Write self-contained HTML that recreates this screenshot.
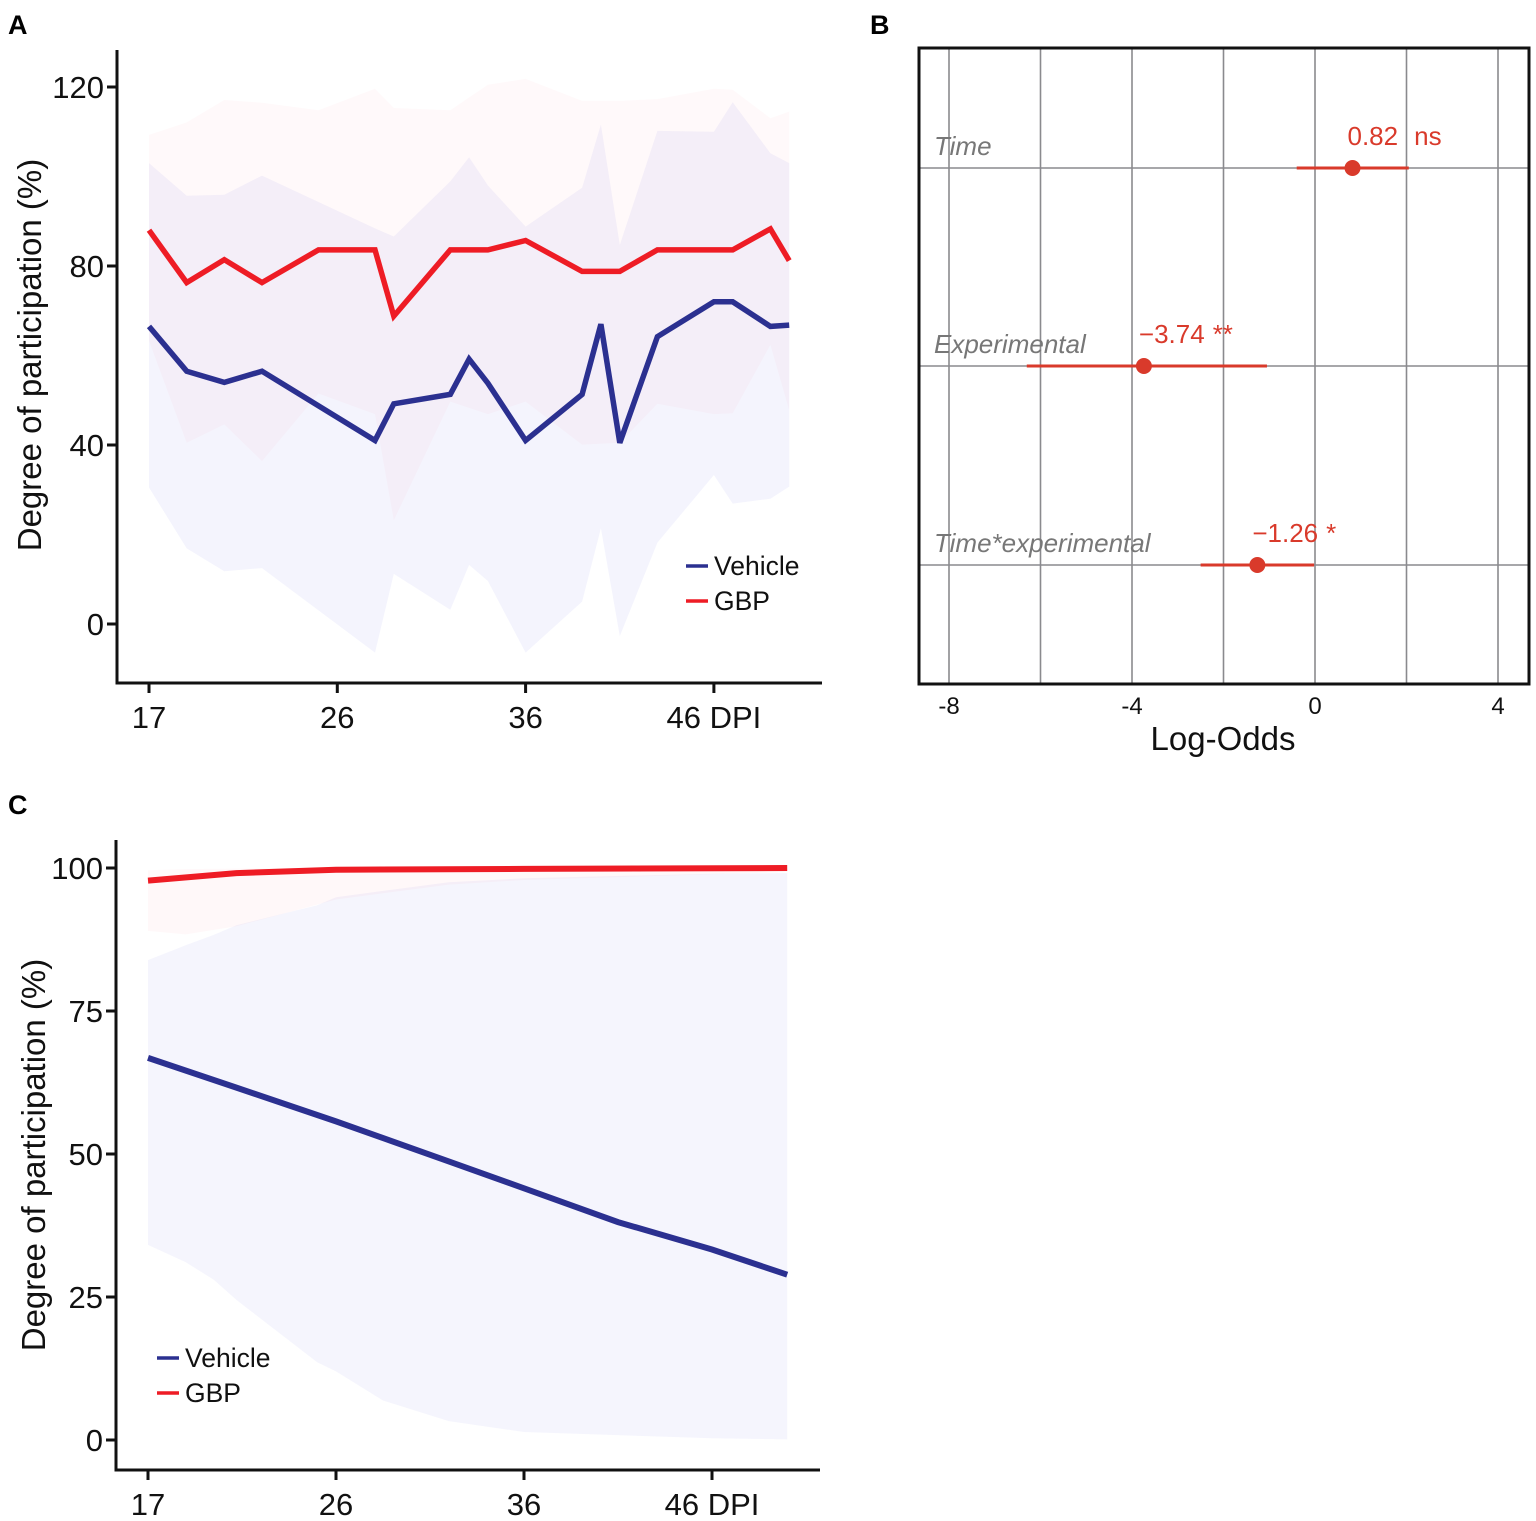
<!DOCTYPE html>
<html><head><meta charset="utf-8">
<style>
html,body{margin:0;padding:0;background:#fff;}
svg{display:block;font-family:"Liberation Sans",Arial,sans-serif;}
</style></head>
<body>
<svg id="fig" width="1536" height="1521" viewBox="0 0 1536 1521" xmlns="http://www.w3.org/2000/svg">
<text x="8" y="34" font-size="27" font-weight="bold">A</text>
<text x="870" y="34" font-size="27" font-weight="bold">B</text>
<text x="8" y="814" font-size="27" font-weight="bold">C</text>
<g id="pa"></g>
<g id="pb"></g>
<g id="pc"></g>
</svg>
<script>
// ---------- Panel A data ----------
const aXTicks = [0, 10, 20, 30];
const aXTickLabels = ["17", "26", "36", "46 DPI"];
const aYTicks = [0, 40, 80, 120];
const aRedX = [0,2,4,6,9,12,13,16,18,20,23,25,27,30,31,33,34];
const aRedY = [88,76.3,81.4,76.3,83.6,83.6,68.8,83.6,83.6,85.7,78.8,78.8,83.6,83.6,83.6,88.3,81.2];
const aRedUpper = [109.3,112.1,117.1,116.5,114.8,119.6,115.3,114.8,120.5,121.8,116.9,116.9,117.3,119.6,119.4,113,114.5];
const aRedLower = [63.3,40.5,44.6,36.4,51.5,46.9,23.2,49.7,46.9,49.7,40.1,40.5,49.2,46.9,47.1,62.4,47.8];
const aBlueX = [0,2,4,6,12,13,16,17,18,20,23,24,25,27,30,31,33,34];
const aBlueY = [66.5,56.5,54.0,56.5,41.0,49.2,51.3,59.2,53.8,41.0,51.3,67.0,40.5,64.2,72.0,72.0,66.5,66.8];
const aBlueUpper = [103,95.7,95.9,100.2,88.4,86.6,98.9,104.3,98,88.8,97.5,111.6,84.7,110.2,110,116.6,105.2,103];
const aBlueLower = [30.5,16.9,11.8,12.5,-6.4,11.2,3.2,13.2,9.6,-6.4,5,21.4,-2.7,18.2,33.3,26.9,28,30.7];

// ---------- Panel B data ----------
const bTerms = ["Time", "Experimental", "Time*experimental"];
const bEst = [0.82, -3.74, -1.26];
const bLow = [-0.4, -6.3, -2.5];
const bHigh = [2.05, -1.05, -0.02];
const bValues = ["0.82", "\u22123.74", "\u22121.26"];
const bSig = ["ns", "**", "*"];
const bXTicks = [-8, -4, 0, 4];
const bGrid = [-8, -6, -4, -2, 0, 2, 4];

// ---------- Panel C data ----------
const cXTicks = [0, 10, 20, 30];
const cXTickLabels = ["17", "26", "36", "46 DPI"];
const cYTicks = [0, 25, 50, 75, 100];
const cBlueX = [0,4.7,10,16,20,25,30,34];
const cBlueY = [66.8,61.6,55.7,48.7,44.0,38.1,33.3,28.9];
const cBandX = [0,2,3.5,4.7,9,10,12.5,16,20,30,34];
const cBlueUpper = [83.9,86.5,88.3,90,93.5,94.9,96,97.5,98.2,99.0,99.1];
const cBlueLower = [34.1,31.1,28,24.5,13.6,12,6.9,3.3,1.4,0.3,0.1];
const cRedX = [0,4.7,10,20,34];
const cRedY = [97.8,99.1,99.7,99.85,100];
const cRedBandX = [0,2,4.7,10,16,20,30,34];
const cRedUpper = [99.6,99.8,99.9,100,100,100,100,100];
const cRedLower = [89.0,88.4,89.8,94.5,97.1,97.9,98.9,99.3];

const NS = "http://www.w3.org/2000/svg";
function mk(parent, tag, attrs){ const e=document.createElementNS(NS,tag); for(const k in attrs) e.setAttribute(k,attrs[k]); parent.appendChild(e); return e; }
function linePath(xs, ys, fx, fy){ return xs.map((x,i)=>(i?"L":"M")+fx(x).toFixed(1)+","+fy(ys[i]).toFixed(1)).join(""); }
function bandPath(xs, up, lo, fx, fy){
  let d=xs.map((x,i)=>(i?"L":"M")+fx(x).toFixed(1)+","+fy(up[i]).toFixed(1)).join("");
  for(let i=xs.length-1;i>=0;i--) d+="L"+fx(xs[i]).toFixed(1)+","+fy(lo[i]).toFixed(1);
  return d+"Z";
}
const BLUE="#2b3090", RED="#ee1c25";

function linePanel(g, o){
  const fx=u=>o.x0+u*o.ux, fy=v=>o.y0-v*o.vy;
  o.bands.forEach(b=>{
    const p=mk(g,"path",{d:bandPath(b.x,b.up,b.lo,fx,fy),fill:b.fill});
    
    
  });
  o.lines.forEach(l=>{
    const p=mk(g,"path",{d:linePath(l.x,l.y,fx,fy),fill:"none",stroke:l.color,"stroke-width":o.lw,"stroke-linejoin":"miter"});
    
    
  });
  const ya=mk(g,"line",{x1:o.axX,y1:o.top,x2:o.axX,y2:o.axY+1.5,stroke:"#111","stroke-width":3});
  
  
  const xa=mk(g,"line",{x1:o.axX-1.5,y1:o.axY,x2:o.right,y2:o.axY,stroke:"#111","stroke-width":3});
  
  
  o.yTicks.forEach(v=>{
    mk(g,"line",{x1:o.axX-10,y1:fy(v),x2:o.axX,y2:fy(v),stroke:"#111","stroke-width":3});
    const t=mk(g,"text",{x:o.axX-13,y:fy(v)+11,"font-size":31,"text-anchor":"end",fill:"#111"});
    t.textContent=v;
    
    
  });
  o.xTicks.forEach((u,i)=>{
    mk(g,"line",{x1:fx(u),y1:o.axY,x2:fx(u),y2:o.axY+10,stroke:"#111","stroke-width":3});
    const t=mk(g,"text",{x:fx(u),y:o.axY+45,"font-size":31,"text-anchor":"middle",fill:"#111"});
    t.textContent=o.xLabels[i];
    
    
  });
  const yt=mk(g,"text",{x:0,y:0,"font-size":33,fill:"#111","text-anchor":"middle",transform:`translate(${o.titleX},${o.titleY}) rotate(-90)`});
  yt.textContent="Degree of participation (%)";
  
  
  [["Vehicle",BLUE,0],["GBP",RED,35]].forEach(([n,c,dy])=>{
    const lg=mk(g,"g",{});
    
    
    mk(lg,"line",{x1:o.legX,y1:o.legY+dy,x2:o.legX+22,y2:o.legY+dy,stroke:c,"stroke-width":3.5});
    const t=mk(lg,"text",{x:o.legX+28,y:o.legY+dy+9,"font-size":26.5,fill:"#111"});
    t.textContent=n;
  });
}

linePanel(document.getElementById("pa"),{
  x0:149,ux:18.83,y0:624,vy:4.475,lw:5.5,axX:117,axY:683,top:50,right:822,
  yTicks:aYTicks,xTicks:aXTicks,xLabels:aXTickLabels,titleX:41,titleY:355,legX:686,legY:566,
  bands:[
    {x:aRedX,up:aRedUpper,lo:aRedLower,fill:"rgba(245,60,90,0.03)",name:"gbp-ci-band"},
    {x:aBlueX,up:aBlueUpper,lo:aBlueLower,fill:"rgba(70,70,215,0.06)",name:"vehicle-ci-band"}],
  lines:[
    {x:aRedX,y:aRedY,color:RED,name:"gbp-line"},
    {x:aBlueX,y:aBlueY,color:BLUE,name:"vehicle-line"}]
});

linePanel(document.getElementById("pc"),{
  x0:148,ux:18.8,y0:1440,vy:5.72,lw:6,axX:116,axY:1470,top:840,right:820,
  yTicks:cYTicks,xTicks:cXTicks,xLabels:cXTickLabels,titleX:45,titleY:1155,legX:157,legY:1358,
  bands:[
    {x:cRedBandX,up:cRedUpper,lo:cRedLower,fill:"rgba(245,60,90,0.035)",name:"gbp-ci-band"},
    {x:cBandX,up:cBlueUpper,lo:cBlueLower,fill:"rgba(70,70,215,0.055)",name:"vehicle-ci-band"}],
  lines:[
    {x:cRedX,y:cRedY,color:RED,name:"gbp-line"},
    {x:cBlueX,y:cBlueY,color:BLUE,name:"vehicle-line"}]
});

// Panel B
(function(){
  const g=document.getElementById("pb");
  const fx=v=>1315+v*45.75;
  const rowY=[168,366,565];
  const L=919,R=1529,T=48,B=684;
  bGrid.forEach(v=>{
    const l=mk(g,"line",{x1:fx(v),y1:T,x2:fx(v),y2:B,stroke:"#8a8a8e","stroke-width":1.6});
    
    
  });
  rowY.forEach(y=>{
    const l=mk(g,"line",{x1:L,y1:y,x2:R,y2:y,stroke:"#8a8a8e","stroke-width":1.6});
    
    
  });
  const fr=mk(g,"rect",{x:L,y:T,width:R-L,height:B-T,fill:"none",stroke:"#111","stroke-width":3});
  
  
  const C="#d93a2b";
  bTerms.forEach((term,i)=>{
    const y=rowY[i];
    const lab=mk(g,"text",{x:934,y:y-13,"font-size":26,"font-style":"italic",fill:"#777"});
    lab.textContent=term;
    
    
    const ci=mk(g,"line",{x1:fx(bLow[i]),y1:y,x2:fx(bHigh[i]),y2:y,stroke:C,"stroke-width":3});
    
    
    const pt=mk(g,"circle",{cx:fx(bEst[i]),cy:y,r:8,fill:C});
    
    
    const an=mk(g,"text",{x:fx(bEst[i])-5,y:y-23,"font-size":26,fill:C});
    an.textContent=bValues[i];
    
    
    const sg=mk(g,"text",{x:fx(bEst[i])-5+an.getComputedTextLength()+(i===0?16:8),y:y-23,"font-size":26,fill:C});
    sg.textContent=bSig[i];
    
    
  });
  bXTicks.forEach(v=>{
    const t=mk(g,"text",{x:fx(v),y:714,"font-size":24,"text-anchor":"middle",fill:"#111"});
    t.textContent=v;
    
    
  });
  const xt=mk(g,"text",{x:1223,y:750,"font-size":33,"text-anchor":"middle",fill:"#111"});
  xt.textContent="Log-Odds";
  
  
})();
</script>
</body></html>
